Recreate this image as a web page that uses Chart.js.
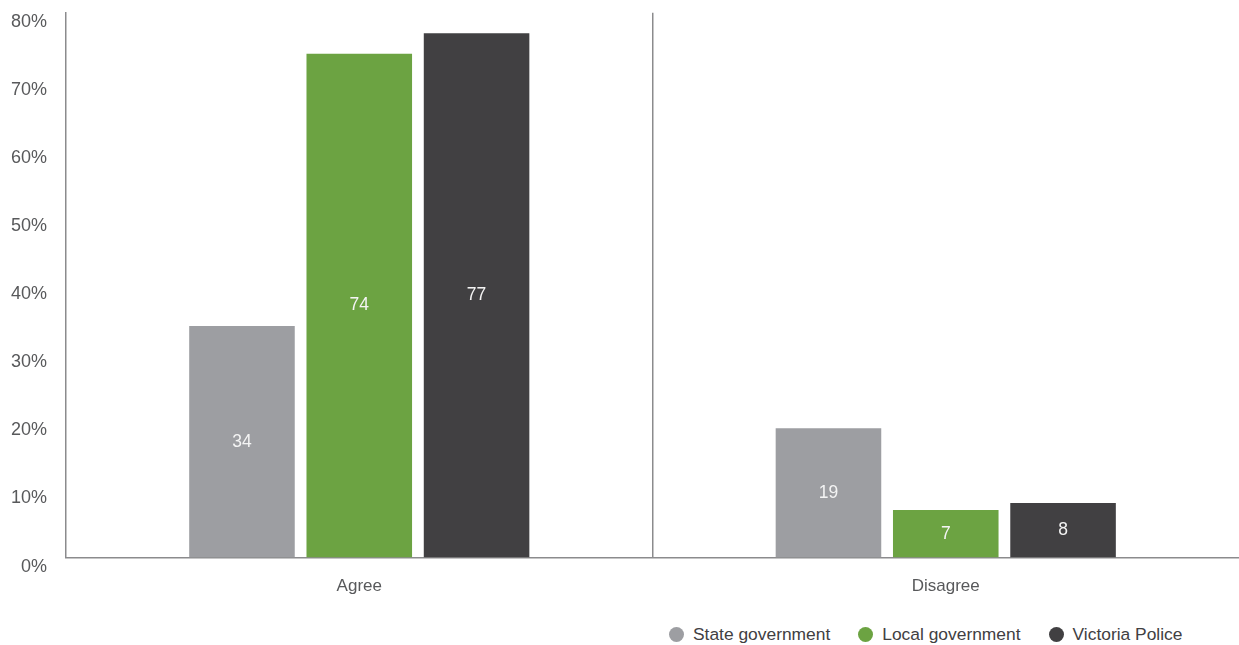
<!DOCTYPE html>
<html>
<head>
<meta charset="utf-8">
<script src="https://cdn.jsdelivr.net/npm/chart.js@4"></script>
<style>
    body { margin: 0; background: #fff; font-family: "Liberation Sans", Arial, sans-serif; overflow: hidden; }
    #wrap { position: relative; width: 1239px; height: 645px; overflow: hidden; }
    #chart-box { position: absolute; left: 0; top: -17px; width: 1239px; height: 637px; }
    #legend { position: absolute; left: 669px; top: 624px; display: flex; align-items: center; font-size: 17.4px; color: #414042; }
    #legend .item { display: flex; align-items: center; margin-right: 28px; }
    #legend .dot { width: 15px; height: 15px; border-radius: 50%; margin-right: 9px; }
</style>
</head>
<body>
<div id="wrap">
    <div id="chart-box"><canvas id="chart"></canvas></div>
    <div id="legend"></div>
</div>
<script>
const categories = ["Agree", "Disagree"];
const seriesNames = ["State government", "Local government", "Victoria Police"];
const stateGov = [34, 19];
const localGov = [74, 7];
const vicPolice = [77, 8];
const seriesColors = ["#9d9ea2", "#6ca342", "#414042"];
const yTicks = [0, 10, 20, 30, 40, 50, 60, 70, 80];

const seriesValues = [stateGov, localGov, vicPolice];
const fontFamily = '"Liberation Sans", Arial, sans-serif';

// white value label in the middle of each bar
const barValues = {
    id: "barValues",
    afterDatasetsDraw(chart) {
        const ctx = chart.ctx;
        ctx.save();
        ctx.fillStyle = "#f4f4f4";
        ctx.font = "17.5px " + fontFamily;
        ctx.textAlign = "center";
        ctx.textBaseline = "middle";
        chart.data.datasets.forEach((ds, i) => {
            chart.getDatasetMeta(i).data.forEach((bar, j) => {
                const mid = (bar.y + bar.base) / 2;
                ctx.fillText(ds.data[j], bar.x, mid);
            });
        });
        ctx.restore();
    }
};

const ctx = document.getElementById("chart").getContext("2d");
new Chart(ctx, {
    type: "bar",
    data: {
        labels: categories,
        datasets: seriesNames.map((name, i) => ({
            label: name,
            data: seriesValues[i],
            backgroundColor: seriesColors[i],
            categoryPercentage: 0.6,
            barPercentage: 0.9
        }))
    },
    options: {
        responsive: true,
        maintainAspectRatio: false,
        animation: false,
        layout: { padding: { left: -8, top: 0, right: 0, bottom: 4 } },
        plugins: { legend: { display: false }, tooltip: { enabled: false } },
        scales: {
            x: {
                grid: {
                    offset: true,
                    drawTicks: false,
                    lineWidth: 1.5,
                    color: c => c.index === 1 ? "#8b8b8d" : "rgba(0,0,0,0)"
                },
                border: { color: "#8b8b8d", width: 1.5 },
                ticks: { padding: 19, color: "#58595b", font: { size: 17, family: fontFamily } }
            },
            y: {
                min: 0,
                max: 80,
                afterBuildTicks: axis => { axis.ticks = yTicks.map(v => ({ value: v })); },
                grid: { display: false, drawTicks: false },
                border: { color: "#8b8b8d", width: 1.5 },
                ticks: {
                    padding: 19,
                    labelOffset: 9,
                    color: "#58595b",
                    font: { size: 18, family: fontFamily },
                    callback: v => v + "%"
                }
            }
        }
    },
    plugins: [barValues]
});

// legend below the plot
const legend = document.getElementById("legend");
seriesNames.forEach((name, i) => {
    const item = document.createElement("div");
    item.className = "item";
    item.innerHTML = `<span class="dot" style="background:${seriesColors[i]}"></span>${name}`;
    legend.appendChild(item);
});
</script>
</body>
</html>
